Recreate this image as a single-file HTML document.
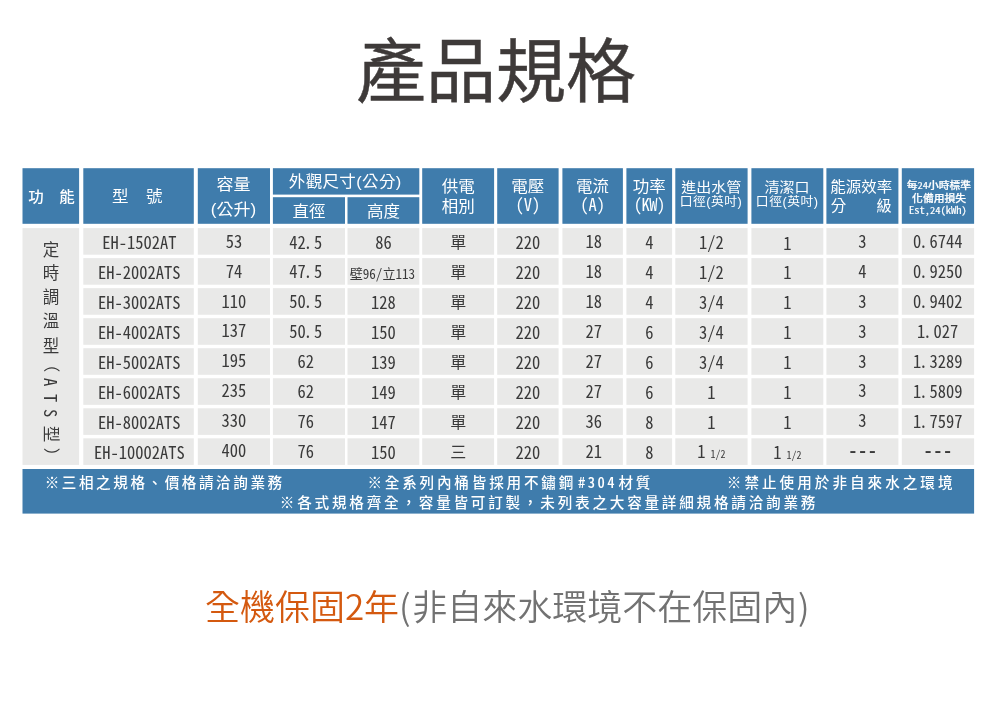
<!DOCTYPE html>
<html lang="zh-Hant">
<head>
<meta charset="utf-8">
<title>產品規格</title>
<style>
html,body{margin:0;padding:0;background:#fff;}
body{width:1000px;height:715px;position:relative;overflow:hidden;font-family:"Liberation Sans","Noto Sans CJK TC",sans-serif;}
.bg{position:absolute;left:0;top:0;display:block;}
.title{position:absolute;left:496px;top:72.9px;transform:translate(-50%,-50%);white-space:nowrap;font-size:70px;line-height:1;font-weight:400;color:#3e3a39;-webkit-text-stroke:0.45px #3e3a39;}
.x{position:absolute;transform:translate(-50%,-50%);white-space:nowrap;line-height:1;text-align:center;}
.sp{display:inline-block;height:1px;}
.h{color:#fff;font-weight:400;transform:translate(-50%,-50%) scaleY(0.94);}
.h.u{font-family:"Noto Sans CJK TC","IPAGothic","Liberation Mono",monospace;font-feature-settings:"hwid";font-size:16.5px;transform:translate(-50%,-50%) scaleY(1.05);}
.h.b{font-size:10.8px;font-weight:500;transform:translate(-50%,-50%) scaleY(0.92);-webkit-text-stroke:0.25px #fff;}
.h .n, .h.n{font-family:"Noto Sans CJK TC","IPAGothic","Liberation Mono",monospace;font-feature-settings:"hwid";font-size:10.5px;font-weight:400;-webkit-text-stroke:0.2px #fff;}
.d{color:#3a3a3a;font-size:16.5px;font-family:"Noto Sans CJK TC","IPAGothic","Liberation Mono",monospace;font-feature-settings:"hwid";transform:translate(-50%,-50%) scaleY(1.05);}
.d .sm{font-size:13.1px;}
.d .p{position:relative;left:-2px;}
.d .fr{font-size:10px;}
.d .ds{letter-spacing:1.55px;font-weight:700;}
.cj{color:#3a3a3a;font-size:16px;}
.vcol{position:absolute;left:0;top:0;width:0;height:0;}
.v{color:#3a3a3a;font-size:16.5px;display:block;}
.v.r{transform:translate(-50%,-50%) rotate(90deg);}
.v.rl{transform:translate(-50%,-50%) rotate(90deg) scaleY(1.05);font-family:"Noto Sans CJK TC","IPAGothic","Liberation Mono",monospace;font-feature-settings:"hwid";}
.f{color:#fff;font-size:14.6px;font-weight:500;}
.f .fn{font-family:"Noto Sans CJK TC","IPAGothic","Liberation Mono",monospace;font-feature-settings:"hwid";letter-spacing:2.4px;margin:0 1.5px 0 2px;}
.warr{position:absolute;left:507.3px;top:603.9px;transform:translate(-50%,-50%);white-space:nowrap;font-size:35px;line-height:1;font-weight:350;color:#727272;font-family:"Noto Sans CJK TC","Liberation Sans",sans-serif;}
.warr b{font-weight:350;color:#d4590f;}
</style>
</head>
<body>
<svg class="bg" width="1000" height="715" viewBox="0 0 1000 715"><rect x="22.50" y="168.20" width="56.60" height="55.60" fill="#3f7cac"/><rect x="83.30" y="168.20" width="110.50" height="55.60" fill="#3f7cac"/><rect x="197.80" y="168.20" width="72.20" height="55.60" fill="#3f7cac"/><rect x="422.20" y="168.20" width="71.90" height="55.60" fill="#3f7cac"/><rect x="497.20" y="168.20" width="61.40" height="55.60" fill="#3f7cac"/><rect x="562.40" y="168.20" width="60.50" height="55.60" fill="#3f7cac"/><rect x="626.40" y="168.20" width="45.70" height="55.60" fill="#3f7cac"/><rect x="675.30" y="168.20" width="72.30" height="55.60" fill="#3f7cac"/><rect x="751.40" y="168.20" width="71.90" height="55.60" fill="#3f7cac"/><rect x="826.40" y="168.20" width="72.00" height="55.60" fill="#3f7cac"/><rect x="901.80" y="168.20" width="72.30" height="55.60" fill="#3f7cac"/><rect x="272.90" y="168.20" width="146.40" height="26.40" fill="#3f7cac"/><rect x="272.90" y="197.20" width="72.10" height="26.60" fill="#3f7cac"/><rect x="347.50" y="197.20" width="71.80" height="26.60" fill="#3f7cac"/><rect x="22.50" y="228.10" width="56.60" height="236.81" fill="#e9e9e8"/><rect x="83.30" y="228.10" width="110.50" height="26.60" fill="#e9e9e8"/><rect x="197.80" y="228.10" width="72.20" height="26.60" fill="#e9e9e8"/><rect x="272.90" y="228.10" width="72.10" height="26.60" fill="#e9e9e8"/><rect x="347.50" y="228.10" width="71.80" height="26.60" fill="#e9e9e8"/><rect x="422.20" y="228.10" width="71.90" height="26.60" fill="#e9e9e8"/><rect x="497.20" y="228.10" width="61.40" height="26.60" fill="#e9e9e8"/><rect x="562.40" y="228.10" width="60.50" height="26.60" fill="#e9e9e8"/><rect x="626.40" y="228.10" width="45.70" height="26.60" fill="#e9e9e8"/><rect x="675.30" y="228.10" width="72.30" height="26.60" fill="#e9e9e8"/><rect x="751.40" y="228.10" width="71.90" height="26.60" fill="#e9e9e8"/><rect x="826.40" y="228.10" width="72.00" height="26.60" fill="#e9e9e8"/><rect x="901.80" y="228.10" width="72.30" height="26.60" fill="#e9e9e8"/><rect x="83.30" y="258.13" width="110.50" height="26.60" fill="#e9e9e8"/><rect x="197.80" y="258.13" width="72.20" height="26.60" fill="#e9e9e8"/><rect x="272.90" y="258.13" width="72.10" height="26.60" fill="#e9e9e8"/><rect x="347.50" y="258.13" width="71.80" height="26.60" fill="#e9e9e8"/><rect x="422.20" y="258.13" width="71.90" height="26.60" fill="#e9e9e8"/><rect x="497.20" y="258.13" width="61.40" height="26.60" fill="#e9e9e8"/><rect x="562.40" y="258.13" width="60.50" height="26.60" fill="#e9e9e8"/><rect x="626.40" y="258.13" width="45.70" height="26.60" fill="#e9e9e8"/><rect x="675.30" y="258.13" width="72.30" height="26.60" fill="#e9e9e8"/><rect x="751.40" y="258.13" width="71.90" height="26.60" fill="#e9e9e8"/><rect x="826.40" y="258.13" width="72.00" height="26.60" fill="#e9e9e8"/><rect x="901.80" y="258.13" width="72.30" height="26.60" fill="#e9e9e8"/><rect x="83.30" y="288.16" width="110.50" height="26.60" fill="#e9e9e8"/><rect x="197.80" y="288.16" width="72.20" height="26.60" fill="#e9e9e8"/><rect x="272.90" y="288.16" width="72.10" height="26.60" fill="#e9e9e8"/><rect x="347.50" y="288.16" width="71.80" height="26.60" fill="#e9e9e8"/><rect x="422.20" y="288.16" width="71.90" height="26.60" fill="#e9e9e8"/><rect x="497.20" y="288.16" width="61.40" height="26.60" fill="#e9e9e8"/><rect x="562.40" y="288.16" width="60.50" height="26.60" fill="#e9e9e8"/><rect x="626.40" y="288.16" width="45.70" height="26.60" fill="#e9e9e8"/><rect x="675.30" y="288.16" width="72.30" height="26.60" fill="#e9e9e8"/><rect x="751.40" y="288.16" width="71.90" height="26.60" fill="#e9e9e8"/><rect x="826.40" y="288.16" width="72.00" height="26.60" fill="#e9e9e8"/><rect x="901.80" y="288.16" width="72.30" height="26.60" fill="#e9e9e8"/><rect x="83.30" y="318.19" width="110.50" height="26.60" fill="#e9e9e8"/><rect x="197.80" y="318.19" width="72.20" height="26.60" fill="#e9e9e8"/><rect x="272.90" y="318.19" width="72.10" height="26.60" fill="#e9e9e8"/><rect x="347.50" y="318.19" width="71.80" height="26.60" fill="#e9e9e8"/><rect x="422.20" y="318.19" width="71.90" height="26.60" fill="#e9e9e8"/><rect x="497.20" y="318.19" width="61.40" height="26.60" fill="#e9e9e8"/><rect x="562.40" y="318.19" width="60.50" height="26.60" fill="#e9e9e8"/><rect x="626.40" y="318.19" width="45.70" height="26.60" fill="#e9e9e8"/><rect x="675.30" y="318.19" width="72.30" height="26.60" fill="#e9e9e8"/><rect x="751.40" y="318.19" width="71.90" height="26.60" fill="#e9e9e8"/><rect x="826.40" y="318.19" width="72.00" height="26.60" fill="#e9e9e8"/><rect x="901.80" y="318.19" width="72.30" height="26.60" fill="#e9e9e8"/><rect x="83.30" y="348.22" width="110.50" height="26.60" fill="#e9e9e8"/><rect x="197.80" y="348.22" width="72.20" height="26.60" fill="#e9e9e8"/><rect x="272.90" y="348.22" width="72.10" height="26.60" fill="#e9e9e8"/><rect x="347.50" y="348.22" width="71.80" height="26.60" fill="#e9e9e8"/><rect x="422.20" y="348.22" width="71.90" height="26.60" fill="#e9e9e8"/><rect x="497.20" y="348.22" width="61.40" height="26.60" fill="#e9e9e8"/><rect x="562.40" y="348.22" width="60.50" height="26.60" fill="#e9e9e8"/><rect x="626.40" y="348.22" width="45.70" height="26.60" fill="#e9e9e8"/><rect x="675.30" y="348.22" width="72.30" height="26.60" fill="#e9e9e8"/><rect x="751.40" y="348.22" width="71.90" height="26.60" fill="#e9e9e8"/><rect x="826.40" y="348.22" width="72.00" height="26.60" fill="#e9e9e8"/><rect x="901.80" y="348.22" width="72.30" height="26.60" fill="#e9e9e8"/><rect x="83.30" y="378.25" width="110.50" height="26.60" fill="#e9e9e8"/><rect x="197.80" y="378.25" width="72.20" height="26.60" fill="#e9e9e8"/><rect x="272.90" y="378.25" width="72.10" height="26.60" fill="#e9e9e8"/><rect x="347.50" y="378.25" width="71.80" height="26.60" fill="#e9e9e8"/><rect x="422.20" y="378.25" width="71.90" height="26.60" fill="#e9e9e8"/><rect x="497.20" y="378.25" width="61.40" height="26.60" fill="#e9e9e8"/><rect x="562.40" y="378.25" width="60.50" height="26.60" fill="#e9e9e8"/><rect x="626.40" y="378.25" width="45.70" height="26.60" fill="#e9e9e8"/><rect x="675.30" y="378.25" width="72.30" height="26.60" fill="#e9e9e8"/><rect x="751.40" y="378.25" width="71.90" height="26.60" fill="#e9e9e8"/><rect x="826.40" y="378.25" width="72.00" height="26.60" fill="#e9e9e8"/><rect x="901.80" y="378.25" width="72.30" height="26.60" fill="#e9e9e8"/><rect x="83.30" y="408.28" width="110.50" height="26.60" fill="#e9e9e8"/><rect x="197.80" y="408.28" width="72.20" height="26.60" fill="#e9e9e8"/><rect x="272.90" y="408.28" width="72.10" height="26.60" fill="#e9e9e8"/><rect x="347.50" y="408.28" width="71.80" height="26.60" fill="#e9e9e8"/><rect x="422.20" y="408.28" width="71.90" height="26.60" fill="#e9e9e8"/><rect x="497.20" y="408.28" width="61.40" height="26.60" fill="#e9e9e8"/><rect x="562.40" y="408.28" width="60.50" height="26.60" fill="#e9e9e8"/><rect x="626.40" y="408.28" width="45.70" height="26.60" fill="#e9e9e8"/><rect x="675.30" y="408.28" width="72.30" height="26.60" fill="#e9e9e8"/><rect x="751.40" y="408.28" width="71.90" height="26.60" fill="#e9e9e8"/><rect x="826.40" y="408.28" width="72.00" height="26.60" fill="#e9e9e8"/><rect x="901.80" y="408.28" width="72.30" height="26.60" fill="#e9e9e8"/><rect x="83.30" y="438.31" width="110.50" height="26.60" fill="#e9e9e8"/><rect x="197.80" y="438.31" width="72.20" height="26.60" fill="#e9e9e8"/><rect x="272.90" y="438.31" width="72.10" height="26.60" fill="#e9e9e8"/><rect x="347.50" y="438.31" width="71.80" height="26.60" fill="#e9e9e8"/><rect x="422.20" y="438.31" width="71.90" height="26.60" fill="#e9e9e8"/><rect x="497.20" y="438.31" width="61.40" height="26.60" fill="#e9e9e8"/><rect x="562.40" y="438.31" width="60.50" height="26.60" fill="#e9e9e8"/><rect x="626.40" y="438.31" width="45.70" height="26.60" fill="#e9e9e8"/><rect x="675.30" y="438.31" width="72.30" height="26.60" fill="#e9e9e8"/><rect x="751.40" y="438.31" width="71.90" height="26.60" fill="#e9e9e8"/><rect x="826.40" y="438.31" width="72.00" height="26.60" fill="#e9e9e8"/><rect x="901.80" y="438.31" width="72.30" height="26.60" fill="#e9e9e8"/><rect x="22.50" y="469.00" width="951.60" height="44.60" fill="#3f7cac"/></svg>
<div class="title">產品規格</div>
<div class="x h" style="left:51.40px;top:197.00px;font-size:15.5px;font-weight:500;">功<span class="sp" style="width:15.5px"></span>能</div>
<div class="x h" style="left:137.30px;top:197.20px;font-size:16.5px;">型<span class="sp" style="width:17.5px"></span>號</div>
<div class="x h" style="left:233.50px;top:185.00px;font-size:17px;">容量</div>
<div class="x h" style="left:233.50px;top:210.10px;font-size:17px;">(公升)</div>
<div class="x h" style="left:345.20px;top:182.40px;font-size:16.5px;letter-spacing:0.35px;">外觀尺寸(公分)</div>
<div class="x h" style="left:308.95px;top:212.10px;font-size:16.5px;">直徑</div>
<div class="x h" style="left:383.40px;top:212.10px;font-size:16.5px;">高度</div>
<div class="x h" style="left:458.30px;top:187.20px;font-size:16.5px;">供電</div>
<div class="x h" style="left:458.30px;top:206.90px;font-size:16.5px;">相別</div>
<div class="x h" style="left:527.80px;top:186.70px;font-size:16.5px;">電壓</div>
<div class="x h u" style="left:527.80px;top:203.90px;">(V)</div>
<div class="x h" style="left:592.60px;top:187.00px;font-size:16.5px;">電流</div>
<div class="x h u" style="left:592.60px;top:203.90px;">(A)</div>
<div class="x h" style="left:649.30px;top:187.20px;font-size:16.5px;">功率</div>
<div class="x h u" style="left:649.30px;top:203.90px;letter-spacing:-0.5px;">(KW)</div>
<div class="x h" style="left:711.30px;top:186.50px;font-size:15px;">進出水管</div>
<div class="x h" style="left:711.00px;top:203.30px;font-size:12.8px;letter-spacing:0.5px;">口徑(英吋)</div>
<div class="x h" style="left:786.90px;top:186.50px;font-size:15px;">清潔口</div>
<div class="x h" style="left:787.20px;top:203.30px;font-size:12.8px;letter-spacing:0.5px;">口徑(英吋)</div>
<div class="x h" style="left:861.20px;top:187.40px;font-size:15.5px;">能源效率</div>
<div class="x h" style="left:861.20px;top:206.10px;font-size:15.5px;">分<span class="sp" style="width:30px"></span>級</div>
<div class="x h b" style="left:938.90px;top:185.80px;">每<span class="n">24</span>小時標準</div>
<div class="x h b" style="left:939.10px;top:198.90px;">化備用損失</div>
<div class="x h b n" style="left:937.80px;top:210.70px;">Est,24(kWh)</div>
<div class="vcol"><span class="x v u" style="left:51.10px;top:249.60px;">定</span><span class="x v u" style="left:51.10px;top:272.60px;">時</span><span class="x v u" style="left:51.10px;top:297.00px;">調</span><span class="x v u" style="left:51.10px;top:321.40px;">溫</span><span class="x v u" style="left:51.10px;top:345.50px;">型</span><span class="x v r" style="left:51.10px;top:363.50px;">（</span><span class="x v rl" style="left:51.10px;top:381.70px;">A</span><span class="x v rl" style="left:51.10px;top:397.50px;">T</span><span class="x v rl" style="left:51.10px;top:412.70px;">S</span><span class="x v r" style="left:51.10px;top:433.50px;">型</span><span class="x v r" style="left:51.10px;top:456.00px;">）</span></div>
<div class="x d" style="left:139.25px;top:242.10px;">EH-1502AT</div>
<div class="x d" style="left:233.90px;top:240.60px;">53</div>
<div class="x d" style="left:305.65px;top:241.50px;">42<span class="p">.</span>5</div>
<div class="x d" style="left:383.40px;top:242.00px;">86</div>
<div class="x cj" style="left:458.15px;top:243.10px;">單</div>
<div class="x d" style="left:527.90px;top:241.90px;">220</div>
<div class="x d" style="left:593.85px;top:241.00px;">18</div>
<div class="x d" style="left:649.25px;top:241.90px;">4</div>
<div class="x d" style="left:711.45px;top:241.80px;">1/2</div>
<div class="x d" style="left:787.35px;top:242.50px;">1</div>
<div class="x d" style="left:862.40px;top:240.70px;">3</div>
<div class="x d" style="left:937.65px;top:241.30px;">0<span class="p">.</span>6744</div>
<div class="x d" style="left:139.25px;top:272.05px;">EH-2002ATS</div>
<div class="x d" style="left:233.90px;top:270.55px;">74</div>
<div class="x d" style="left:305.65px;top:271.45px;">47<span class="p">.</span>5</div>
<div class="x d" style="left:382.40px;top:271.95px;"><span class="sm">壁96/立113</span></div>
<div class="x cj" style="left:458.15px;top:273.05px;">單</div>
<div class="x d" style="left:527.90px;top:271.85px;">220</div>
<div class="x d" style="left:593.85px;top:270.95px;">18</div>
<div class="x d" style="left:649.25px;top:271.85px;">4</div>
<div class="x d" style="left:711.45px;top:271.75px;">1/2</div>
<div class="x d" style="left:787.35px;top:272.45px;">1</div>
<div class="x d" style="left:862.40px;top:270.65px;">4</div>
<div class="x d" style="left:937.65px;top:271.25px;">0<span class="p">.</span>9250</div>
<div class="x d" style="left:139.25px;top:302.00px;">EH-3002ATS</div>
<div class="x d" style="left:233.90px;top:300.50px;">110</div>
<div class="x d" style="left:305.65px;top:301.40px;">50<span class="p">.</span>5</div>
<div class="x d" style="left:383.40px;top:301.90px;">128</div>
<div class="x cj" style="left:458.15px;top:303.00px;">單</div>
<div class="x d" style="left:527.90px;top:301.80px;">220</div>
<div class="x d" style="left:593.85px;top:300.90px;">18</div>
<div class="x d" style="left:649.25px;top:301.80px;">4</div>
<div class="x d" style="left:711.45px;top:301.70px;">3/4</div>
<div class="x d" style="left:787.35px;top:302.40px;">1</div>
<div class="x d" style="left:862.40px;top:300.60px;">3</div>
<div class="x d" style="left:937.65px;top:301.20px;">0<span class="p">.</span>9402</div>
<div class="x d" style="left:139.25px;top:331.95px;">EH-4002ATS</div>
<div class="x d" style="left:233.90px;top:330.45px;">137</div>
<div class="x d" style="left:305.65px;top:331.35px;">50<span class="p">.</span>5</div>
<div class="x d" style="left:383.40px;top:331.85px;">150</div>
<div class="x cj" style="left:458.15px;top:332.95px;">單</div>
<div class="x d" style="left:527.90px;top:331.75px;">220</div>
<div class="x d" style="left:593.85px;top:330.85px;">27</div>
<div class="x d" style="left:649.25px;top:331.75px;">6</div>
<div class="x d" style="left:711.45px;top:331.65px;">3/4</div>
<div class="x d" style="left:787.35px;top:332.35px;">1</div>
<div class="x d" style="left:862.40px;top:330.55px;">3</div>
<div class="x d" style="left:937.65px;top:331.15px;">1<span class="p">.</span>027</div>
<div class="x d" style="left:139.25px;top:361.90px;">EH-5002ATS</div>
<div class="x d" style="left:233.90px;top:360.40px;">195</div>
<div class="x d" style="left:305.65px;top:361.30px;">62</div>
<div class="x d" style="left:383.40px;top:361.80px;">139</div>
<div class="x cj" style="left:458.15px;top:362.90px;">單</div>
<div class="x d" style="left:527.90px;top:361.70px;">220</div>
<div class="x d" style="left:593.85px;top:360.80px;">27</div>
<div class="x d" style="left:649.25px;top:361.70px;">6</div>
<div class="x d" style="left:711.45px;top:361.60px;">3/4</div>
<div class="x d" style="left:787.35px;top:362.30px;">1</div>
<div class="x d" style="left:862.40px;top:360.50px;">3</div>
<div class="x d" style="left:937.65px;top:361.10px;">1<span class="p">.</span>3289</div>
<div class="x d" style="left:139.25px;top:391.85px;">EH-6002ATS</div>
<div class="x d" style="left:233.90px;top:390.35px;">235</div>
<div class="x d" style="left:305.65px;top:391.25px;">62</div>
<div class="x d" style="left:383.40px;top:391.75px;">149</div>
<div class="x cj" style="left:458.15px;top:392.85px;">單</div>
<div class="x d" style="left:527.90px;top:391.65px;">220</div>
<div class="x d" style="left:593.85px;top:390.75px;">27</div>
<div class="x d" style="left:649.25px;top:391.65px;">6</div>
<div class="x d" style="left:711.45px;top:391.55px;">1</div>
<div class="x d" style="left:787.35px;top:392.25px;">1</div>
<div class="x d" style="left:862.40px;top:390.45px;">3</div>
<div class="x d" style="left:937.65px;top:391.05px;">1<span class="p">.</span>5809</div>
<div class="x d" style="left:139.25px;top:421.80px;">EH-8002ATS</div>
<div class="x d" style="left:233.90px;top:420.30px;">330</div>
<div class="x d" style="left:305.65px;top:421.20px;">76</div>
<div class="x d" style="left:383.40px;top:421.70px;">147</div>
<div class="x cj" style="left:458.15px;top:422.80px;">單</div>
<div class="x d" style="left:527.90px;top:421.60px;">220</div>
<div class="x d" style="left:593.85px;top:420.70px;">36</div>
<div class="x d" style="left:649.25px;top:421.60px;">8</div>
<div class="x d" style="left:711.45px;top:421.50px;">1</div>
<div class="x d" style="left:787.35px;top:422.20px;">1</div>
<div class="x d" style="left:862.40px;top:420.40px;">3</div>
<div class="x d" style="left:937.65px;top:421.00px;">1<span class="p">.</span>7597</div>
<div class="x d" style="left:139.25px;top:451.75px;">EH-10002ATS</div>
<div class="x d" style="left:233.90px;top:450.25px;">400</div>
<div class="x d" style="left:305.65px;top:451.15px;">76</div>
<div class="x d" style="left:383.40px;top:451.65px;">150</div>
<div class="x cj" style="left:458.15px;top:452.75px;">三</div>
<div class="x d" style="left:527.90px;top:451.55px;">220</div>
<div class="x d" style="left:593.85px;top:450.65px;">21</div>
<div class="x d" style="left:649.25px;top:451.55px;">8</div>
<div class="x d" style="left:711.45px;top:451.45px;">1<span class="fr"> 1/2</span></div>
<div class="x d" style="left:787.35px;top:452.15px;">1<span class="fr"> 1/2</span></div>
<div class="x d" style="left:863.40px;top:450.35px;"><span class="ds">---</span></div>
<div class="x d" style="left:938.65px;top:449.65px;"><span class="ds">---</span></div>
<div class="x f" style="left:164.70px;top:483.00px;letter-spacing:2.55px;">※三相之規格、價格請洽詢業務</div>
<div class="x f" style="left:510.30px;top:483.00px;letter-spacing:2.8px;">※全系列內桶皆採用不鏽鋼<span class="fn">#304</span>材質</div>
<div class="x f" style="left:841.20px;top:483.00px;letter-spacing:3.0px;">※禁止使用於非自來水之環境</div>
<div class="x f" style="left:549.00px;top:503.00px;letter-spacing:2.77px;">※各式規格齊全，容量皆可訂製，未列表之大容量詳細規格請洽詢業務</div>
<div class="warr"><b>全機保固2年</b><span style="margin-right:1.6px">(</span>非自來水環境不在保固內<span style="margin-left:0.8px">)</span></div>
</body>
</html>
